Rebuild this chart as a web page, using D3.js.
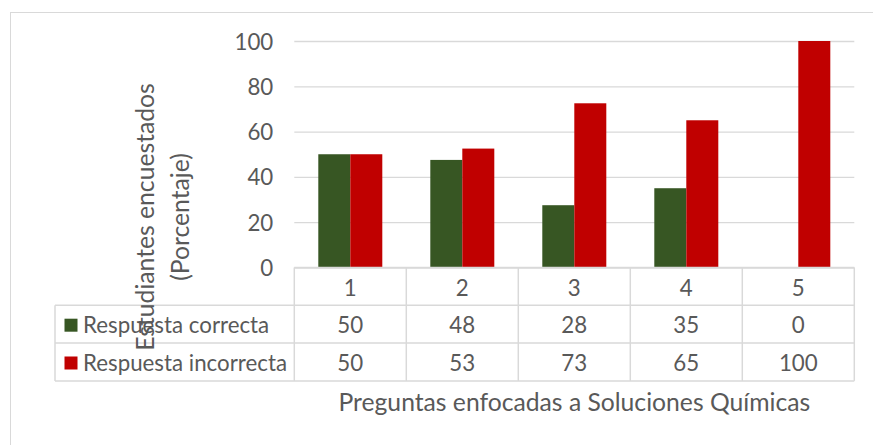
<!DOCTYPE html>
<html><head><meta charset="utf-8">
<script src="https://cdn.jsdelivr.net/npm/d3@7"></script>
<style>body{margin:0;background:#fff}svg{display:block}</style>
</head><body><svg id="c" width="873" height="445"></svg>
<script>
// ---- data ----
const categories = ["1", "2", "3", "4", "5"];
const seriesNames = ["Respuesta correcta", "Respuesta incorrecta"];
const correcta = [50, 47.5, 27.5, 35, 0];
const incorrecta = [50, 52.5, 72.5, 65, 100];
const yTicks = [0, 20, 40, 60, 80, 100];
const yTitleLines = ["Estudiantes encuestados", "(Porcentaje)"];
const xTitle = "Preguntas enfocadas a Soluciones Químicas";
const seriesColors = ["#375623", "#C00000"];

// ---- layout ----
const FONT = "Lato, 'Open Sans', sans-serif";
const TXT = "#595959", GRID = "#d9d9d9";
const svg = d3.select("#c");
const W = 873, H = 445;
const plot = {left: 294.3, right: 854.3, top: 41, bottom: 267.5};
const table = {legendLeft: 55, rowH: 37.8};

function fitSize(text, target) {
  const t = svg.append("text").style("font-family", FONT).style("font-size", "100px").text(text);
  const w = t.node().getComputedTextLength();
  t.remove();
  return 100 * target / w;
}
const labelSize = fitSize("Respuesta incorrecta", 204);
const titleSize = fitSize(xTitle, 472);

// chart border
svg.append("rect").attr("x", 10.5).attr("y", 12.5).attr("width", W + 20).attr("height", H + 20)
  .attr("fill", "#fff").attr("stroke", GRID).attr("stroke-width", 1);

const x = d3.scaleBand().domain(categories).range([plot.left, plot.right])
  .paddingInner(48 / 112).paddingOuter(24 / 112);
const xs = d3.scaleBand().domain(seriesNames).range([0, x.bandwidth()]);
const y = d3.scaleLinear().domain([0, 100]).range([plot.bottom, plot.top]);

// y axis with gridlines
const yAxis = svg.append("g").attr("transform", `translate(${plot.left},0)`)
  .call(d3.axisLeft(y).tickValues(yTicks).tickSize(-(plot.right - plot.left)).tickPadding(21));
yAxis.select(".domain").remove();
yAxis.selectAll(".tick line").attr("stroke", GRID).attr("stroke-width", 1.3);
yAxis.selectAll(".tick text").attr("fill", TXT).style("font-family", FONT)
  .style("font-size", labelSize + "px").attr("dy", "0.36em");

// bars
const series = [correcta, incorrecta];
series.forEach((vals, si) => {
  svg.append("g").selectAll("rect").data(vals).join("rect")
    .attr("x", (d, i) => x(categories[i]) + xs(seriesNames[si]))
    .attr("y", d => y(d))
    .attr("width", xs.bandwidth())
    .attr("height", d => y(0) - y(d))
    .attr("fill", seriesColors[si]);
});

// data table
const step = x.step();
const colEdges = categories.map(c => x(c) - (step - x.bandwidth()) / 2);
colEdges.push(plot.right);
const rowTops = [plot.bottom, plot.bottom + table.rowH, plot.bottom + 2 * table.rowH, plot.bottom + 3 * table.rowH];
const tg = svg.append("g").attr("stroke", GRID).attr("stroke-width", 1.5).attr("fill", "none");
// horizontal lines
tg.append("line").attr("x1", plot.left).attr("x2", plot.right).attr("y1", rowTops[0]).attr("y2", rowTops[0]);
[1, 2, 3].forEach(r => tg.append("line").attr("x1", table.legendLeft).attr("x2", plot.right)
  .attr("y1", rowTops[r]).attr("y2", rowTops[r]));
// vertical lines
colEdges.forEach(cx => tg.append("line").attr("x1", cx).attr("x2", cx).attr("y1", rowTops[0]).attr("y2", rowTops[3]));
tg.append("line").attr("x1", table.legendLeft).attr("x2", table.legendLeft).attr("y1", rowTops[1]).attr("y2", rowTops[3]);

const fmt = d3.format(".0f");
const txtG = svg.append("g").attr("fill", TXT).style("font-family", FONT).style("font-size", labelSize + "px")
  .attr("text-anchor", "middle");
txtG.selectAll("text.h").data(categories).join("text").attr("class", "h")
  .attr("x", d => x(d) + x.bandwidth() / 2).attr("y", (rowTops[0] + rowTops[1]) / 2 + 2).attr("dy", "0.36em").text(d => d);
series.forEach((vals, si) => {
  const cy = (rowTops[si + 1] + rowTops[si + 2]) / 2 + 1;
  txtG.selectAll("text.s" + si).data(vals).join("text").attr("class", "s" + si)
    .attr("x", (d, i) => x(categories[i]) + x.bandwidth() / 2).attr("y", cy).attr("dy", "0.36em").text(d => fmt(d));
  svg.append("rect").attr("x", 64.5).attr("y", cy - 6.5).attr("width", 13).attr("height", 13).attr("fill", seriesColors[si]);
  svg.append("text").attr("x", 83).attr("y", cy).attr("dy", "0.36em").attr("fill", TXT)
    .style("font-family", FONT).style("font-size", labelSize + "px").text(seriesNames[si]);
});

// x title
svg.append("text").attr("x", (plot.left + plot.right) / 2).attr("y", 411).attr("text-anchor", "middle")
  .attr("fill", TXT).style("font-family", FONT).style("font-size", titleSize + "px").text(xTitle);

// y title (two lines, rotated)
const yt = svg.append("text").attr("transform", "translate(0,217) rotate(-90)").attr("text-anchor", "middle")
  .attr("fill", TXT).style("font-family", FONT).style("font-size", titleSize + "px");
yt.append("tspan").attr("x", 0).attr("y", 154).text(yTitleLines[0]);
yt.append("tspan").attr("x", 0).attr("y", 189).text(yTitleLines[1]);
</script>
</body></html>
